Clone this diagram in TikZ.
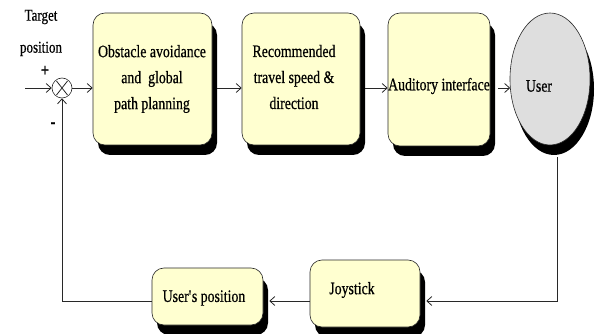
\documentclass[tikz,border=0pt]{standalone}
\usepackage{fontspec}
\setmainfont{Liberation Serif}[FakeStretch=0.79,FakeBold=0.6]
\usetikzlibrary{arrows.meta,shadows,calc,shapes.geometric}
\definecolor{boxfill}{RGB}{255,255,208}
\definecolor{userfill}{RGB}{222,222,222}
\definecolor{linec}{RGB}{40,40,40}
\tikzset{
  blk/.style={draw=linec, line width=0.6pt, fill=boxfill, rounded corners=12pt,
    drop shadow={shadow xshift=5pt, shadow yshift=-10pt, fill=black, opacity=1},
    align=center, inner sep=0pt},
  txt/.style={font=\fontsize{17.5}{26}\selectfont, align=center, inner sep=0pt},
  arr/.style={draw=linec, line width=0.8pt, -{Straight Barb[length=5pt,width=9pt]}},
}
\begin{document}
\begin{tikzpicture}[x=1pt,y=-1pt]
\useasboundingbox (0,0) rectangle (595,334);
% blocks
\node[blk, minimum width=119pt, minimum height=132pt] (b1) at (152.5,79) {};
\node[txt] (t1) at (152,79) {Obstacle avoidance\\and\ \ global\\path planning};
\node[blk, minimum width=118pt, minimum height=132pt] (b2) at (301,79) {};
\node[txt] (t2) at (294,77) {Recommended\\travel speed \&\\direction};
\node[blk, minimum width=102pt, minimum height=133pt] (b3) at (439,79.5) {};
\node[txt] (t3) at (439,86) {Auditory interface};
\node[ellipse, draw=linec, line width=0.6pt, fill=userfill, minimum width=80pt, minimum height=132pt, inner sep=0pt,
  drop shadow={shadow xshift=4pt, shadow yshift=-10pt, fill=black, opacity=1}] (user) at (550,79) {};
\node[txt] (t4) at (539,86) {User};
\node[blk, minimum width=111pt, minimum height=57pt] (up) at (207.5,296.5) {};
\node[txt] (t5) at (204,298) {User\textquotesingle s position};
\node[blk, minimum width=110pt, minimum height=67pt] (joy) at (365,293.5) {};
\node[txt] (t6) at (352,290) {Joystick};
% summing junction
\node[circle, draw=linec, line width=0.6pt, fill=white, minimum size=20pt, inner sep=0pt] (sum) at (62,88) {};
\draw[linec, line width=0.8pt] ($(sum.center)+(-5.5,-7)$) -- ($(sum.center)+(5.5,7)$)
  ($(sum.center)+(-5.5,7)$) -- ($(sum.center)+(5.5,-7)$);
\node[txt, font=\fontsize{16.5}{32}\selectfont] (tp) at (41,33) {Target\\position};
\node[font=\fontsize{18}{18}\selectfont\bfseries, inner sep=0pt] (plus) at (45,71) {+};
\node[font=\fontsize{18}{18}\selectfont\bfseries, inner sep=0pt] (minus) at (53,125) {-};
% connectors
\coordinate (in) at (25,88);
\draw[arr] (in) -- (sum.west);
\draw[arr] (sum.east) -- (sum.east -| b1.west);
\draw[arr] ($(b1.east |- sum.center)+(5,0)$) -- (b2.west |- sum.center);
\draw[arr] ($(b2.east |- sum.center)+(5,0)$) -- (b3.west |- sum.center);
\draw[arr] ($(b3.east |- sum.center)+(8,0)$) -- ($(user.west |- sum.center)+(0.5,0)$);
\coordinate (rc) at (557,301);
\coordinate (lc) at (62,301);
\draw[arr] ($(user.south)+(7,12)$) -- (rc) -- ($(joy.east |- rc)+(6,0)$);
\draw[arr] (joy.west |- rc) -- ($(up.east |- rc)+(6,0)$);
\draw[arr] (up.west |- rc) -- (lc) -- (sum.south);
\end{tikzpicture}
\end{document}
